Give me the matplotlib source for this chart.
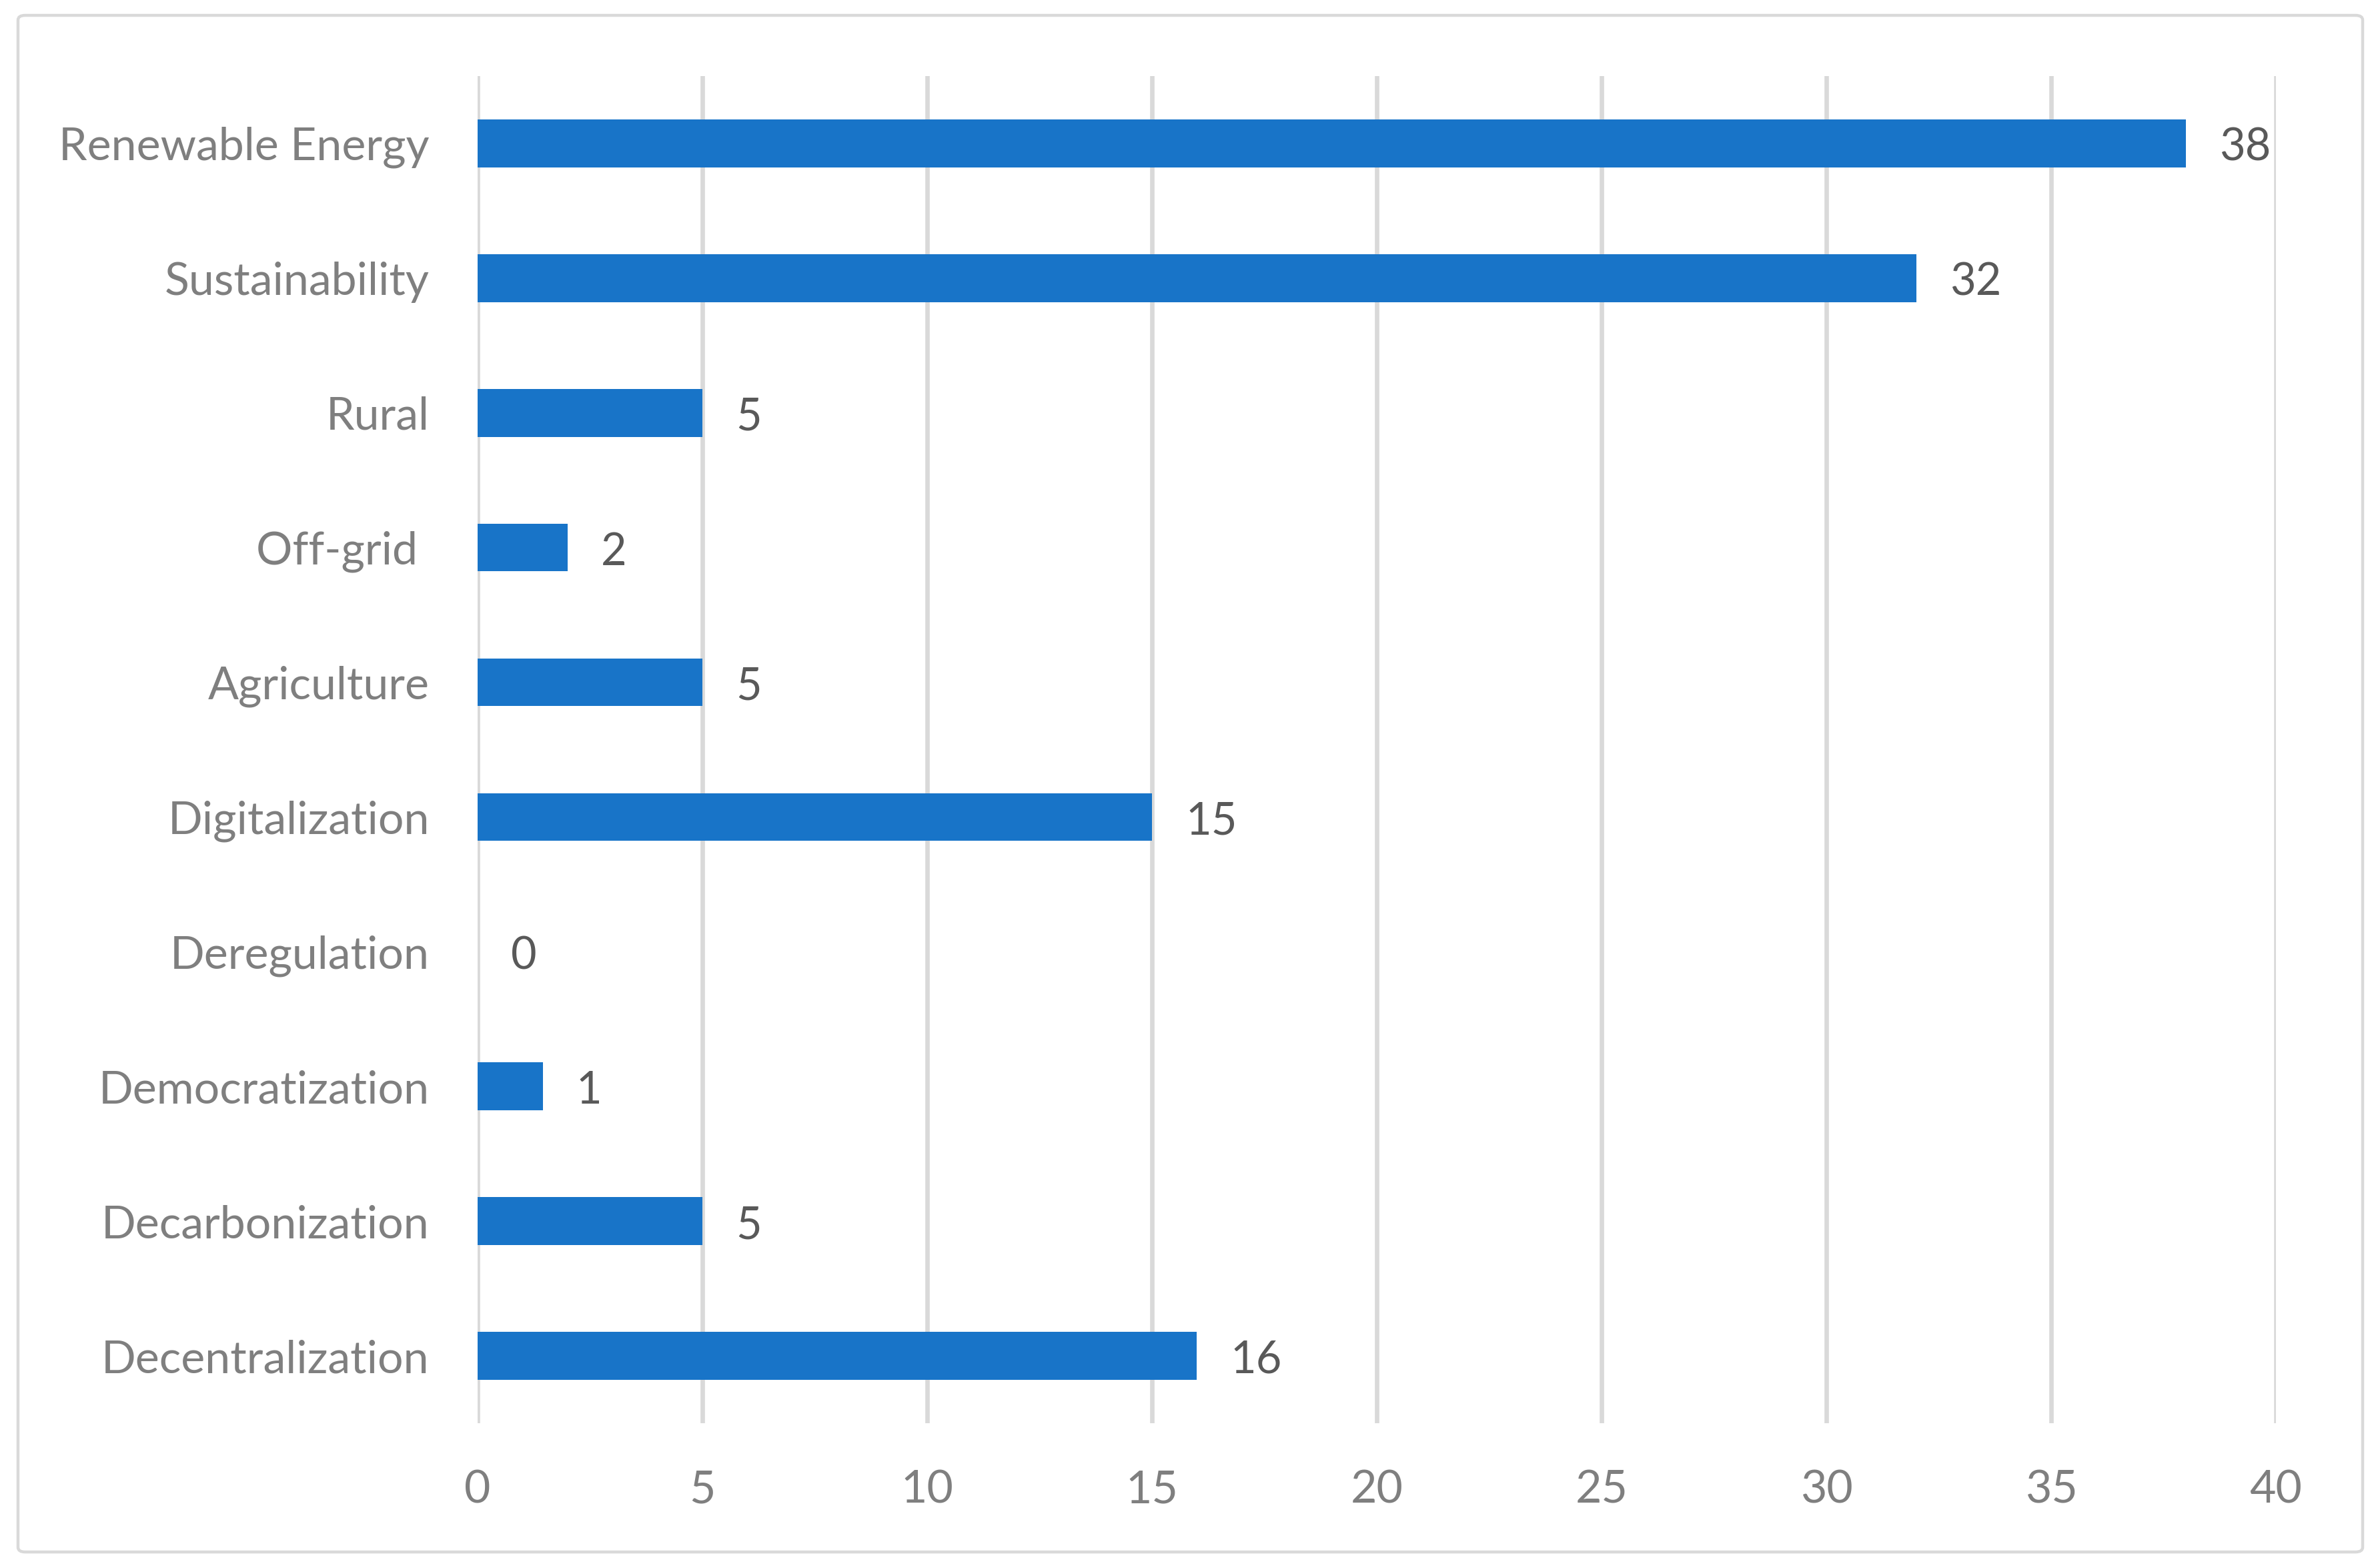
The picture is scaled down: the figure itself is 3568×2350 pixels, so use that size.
import matplotlib
matplotlib.use("Agg")
import matplotlib.pyplot as plt
from matplotlib.patches import FancyBboxPatch

# Data (bottom to top)
categories = ["Decentralization", "Decarbonization", "Democratization", "Deregulation",
              "Digitalization", "Agriculture", "Off-grid ", "Rural", "Sustainability",
              "Renewable Energy"]
values = [16, 5, 1.45, 0, 15, 5, 2, 5, 32, 38]
value_labels = ["16", "5", "1", "0", "15", "5", "2", "5", "32", "38"]
x_ticks = [0, 5, 10, 15, 20, 25, 30, 35, 40]

W, H, DPI = 3568, 2350, 200
plt.rcParams['font.family'] = ['Lato', 'DejaVu Sans']
fig = plt.figure(figsize=(W / DPI, H / DPI), dpi=DPI)
fig.patch.set_facecolor("white")

# outer border
border = FancyBboxPatch((27 / W, 1 - 2326 / H), (3542 - 27) / W, (2326 - 23) / H,
                        boxstyle="round,pad=0,rounding_size=0.003",
                        transform=fig.transFigure, facecolor="none",
                        edgecolor="#D9D9D9", linewidth=1.6, zorder=0)
fig.patches.append(border)

ax = fig.add_axes([716 / W, 1 - 2133 / H, (3412 - 716) / W, (2133 - 114) / H])
y = list(range(len(categories)))
ax.barh(y, values, height=0.355, color="#1874C8", zorder=3)

ax.set_xlim(0, 40)
ax.set_ylim(-0.5, len(categories) - 0.5)
ax.set_xticks(x_ticks)
ax.set_xticklabels([str(t) for t in x_ticks])
ax.set_yticks(y)
ax.set_yticklabels(categories)

for s in ax.spines.values():
    s.set_visible(False)
ax.grid(axis="x", color="#D9D9D9", linewidth=2.4, zorder=0)
ax.set_axisbelow(True)
ax.tick_params(axis="both", length=0, labelsize=24.5, colors="#7F7F7F")
ax.tick_params(axis="y", pad=26)
ax.tick_params(axis="x", pad=25)

for yi, v, lab in zip(y, values, value_labels):
    ax.annotate(lab, xy=(v, yi), xytext=(18, -2.5), textcoords="offset points",
                ha="left", va="center", fontsize=24, color="#595959")

fig.savefig("out.png", dpi=DPI, facecolor="white")
